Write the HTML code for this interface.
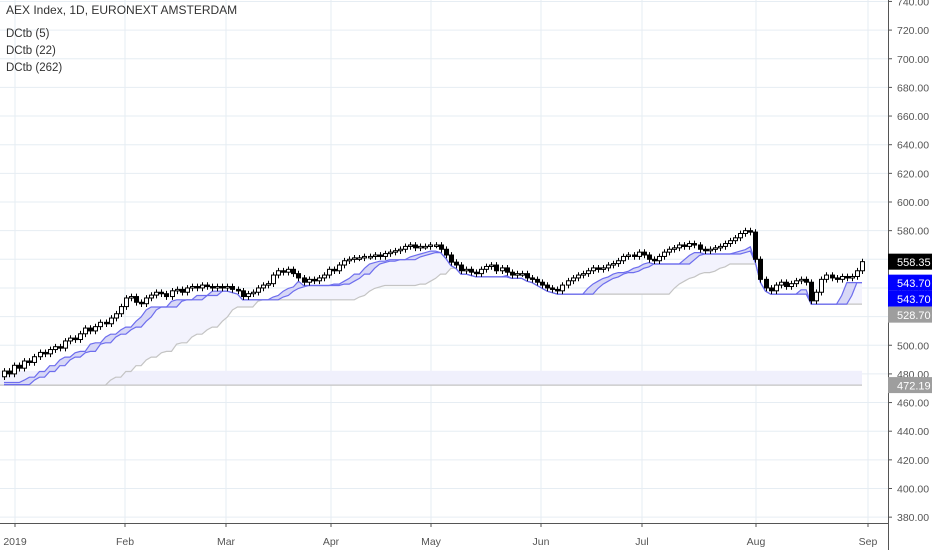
<!DOCTYPE html>
<html><head><meta charset="utf-8"><style>
body{margin:0;background:#fff;font-family:"Liberation Sans",sans-serif;}
#wrap{position:relative;width:932px;height:550px;overflow:hidden;}
svg text{font-family:"Liberation Sans",sans-serif;}
</style></head><body>
<div id="wrap">
<svg id="chart" width="932" height="550"></svg>
</div>
<script>
const closes = [
482,480,486,484,489,488,492,495,494,497,499,498,503,505,504,508,512,510,513,516,515,519,
522,527,533,534,530,529,533,535,537,536,534,538,539,537,540,541,540,542,541,540,
541,540,541,539,538,534,536,537,540,542,543,549,552,551,553,550,547,544,546,545,547,
549,553,552,556,559,560,561,561,562,562,563,562,564,565,566,567,569,570,568,569,
569,570,570,567,563,558,556,552,553,551,550,553,555,556,552,554,551,549,550,550,547,546,
544,542,540,539,538,542,545,547,549,550,552,554,553,554,556,557,559,562,563,562,
565,563,560,559,562,565,567,568,570,569,571,570,567,566,567,568,569,571,573,575,578,580,579,
560,546,540,538,542,544,541,543,545,546,544,531,537,546,549,547,546,548,547,548,552,558.35];
const firstOpen = 478;
const priorLow262 = 472.19;
const monthLabels = ["2019","Feb","Mar","Apr","May","Jun","Jul","Aug","Sep"];
const monthPx = [15,125,226,331,431,541,642,756,868];
const yTicks = [380,400,420,440,460,480,500,520,540,560,580,600,620,640,660,680,700,720,740];

const NS="http://www.w3.org/2000/svg";
const svg=document.getElementById('chart');
function yS(v){return 202+(600-v)*1.4325;}
const n=closes.length, x0=4, dx=(862-x0)/(n-1);
function xS(i){return x0+i*dx;}
function mk(tag,attrs,parent){const e=document.createElementNS(NS,tag);for(const k in attrs)e.setAttribute(k,attrs[k]);(parent||svg).appendChild(e);return e;}

yTicks.forEach(v=>{const l=mk('line',{x1:0,x2:888,y1:yS(v),y2:yS(v),stroke:'#e6edf3','stroke-width':1});

});
monthPx.forEach(x=>{const l=mk('line',{x1:x,x2:x,y1:0,y2:523,stroke:'#e6edf3','stroke-width':1});

});

const opens=closes.map((c,i)=>i===0?firstOpen:closes[i-1]);
const highs=closes.map((c,i)=>Math.max(c,opens[i])+2);
const lows=closes.map((c,i)=>Math.min(c,opens[i])-2.3);
function minLow(i,p,prior){let m=prior===undefined?Infinity:prior;for(let k=Math.max(0,i-p+1);k<=i;k++)m=Math.min(m,lows[k]);return m;}
const dc5=closes.map((c,i)=>minLow(i,5,i<4?474:undefined));
const dc7=closes.map((c,i)=>minLow(i,7,i<6?472.5:undefined));
const dc22=closes.map((c,i)=>minLow(i,22,i<21?priorLow262:undefined));
function pathOf(arr){return arr.map((v,i)=>(i?'L':'M')+xS(i).toFixed(1)+' '+yS(v).toFixed(1)).join(' ');}
function area(a,b,fill,name){let d=pathOf(a);for(let i=n-1;i>=0;i--)d+=' L'+xS(i).toFixed(1)+' '+yS(b[i]).toFixed(1);d+=' Z';
const p=mk('path',{d:d,fill:fill,stroke:'none'});

}
const b262=mk('rect',{x:0,y:yS(priorLow262+10),width:862,height:yS(priorLow262)-yS(priorLow262+10),fill:'#f0f0fc'});


const l262=mk('line',{x1:0,x2:862,y1:yS(priorLow262),y2:yS(priorLow262),stroke:'#c4c4c4','stroke-width':1.2});


area(dc7,dc22,'#f3f3fd','dc22-fill');
area(dc5,dc7,'#d8d8f6','dc5-fill');
const lg=mk('path',{d:pathOf(dc22),fill:'none',stroke:'#c4c4c4','stroke-width':1.2});


const lb2=mk('path',{d:pathOf(dc7),fill:'none',stroke:'#6d6dee','stroke-width':1.2});


const lb1=mk('path',{d:pathOf(dc5),fill:'none',stroke:'#6d6dee','stroke-width':1.2});



closes.forEach((c,i)=>{const o=opens[i],x=Math.round(xS(i))+0.5,up=c>=o;
const w=mk('line',{x1:x,x2:x,y1:yS(highs[i]),y2:yS(lows[i]),stroke:'#000','stroke-width':1});


const top=yS(Math.max(o,c)),h=Math.max(1.5,yS(Math.min(o,c))-top);
const r=mk('rect',{x:x-2,y:top,width:4,height:h,fill:up?'#fff':'#000',stroke:'#000','stroke-width':1});

});

const ax=mk('line',{x1:888.5,x2:888.5,y1:0,y2:550,stroke:'#555','stroke-width':1});


const bx=mk('line',{x1:0,x2:888,y1:523.5,y2:523.5,stroke:'#555','stroke-width':1});


yTicks.forEach(v=>{const y=yS(v);
const t=mk('line',{x1:888,x2:892,y1:y,y2:y,stroke:'#555'});


const tx=mk('text',{x:897,y:y+4,'font-size':10.5,fill:'#555'});tx.textContent=v.toFixed(2);

});
monthLabels.forEach((m,i)=>{const x=monthPx[i];
const t=mk('line',{x1:x,x2:x,y1:523,y2:527,stroke:'#555'});


const tx=mk('text',{x:x,y:545,'font-size':10.5,fill:'#555','text-anchor':'middle'});tx.textContent=m;

});

let lastTagY=-100;
function tag(v,bg,name){let y=yS(v);
if(y-lastTagY<16 && y>lastTagY-16) y=lastTagY+16; lastTagY=y;
const r=mk('rect',{x:888,y:y-8,width:44,height:16,fill:bg});


const t=mk('text',{x:897,y:y+4.5,'font-size':11,fill:'#fff'});t.textContent=v.toFixed(2);

}
tag(closes[n-1],'#000','last-price-tag');
tag(dc5[n-1],'#0000ff','dc5-price-tag');
tag(dc7[n-1],'#0000ff','dc-lower-price-tag');
tag(dc22[n-1],'#9e9e9e','dc22-price-tag');
lastTagY=-100;
tag(priorLow262,'#9e9e9e','dc262-price-tag');

[["AEX Index, 1D, EURONEXT AMSTERDAM",14,12,'chart-title'],["DCtb (5)",37,11.5,'legend-dc5'],["DCtb (22)",54,11.5,'legend-dc22'],["DCtb (262)",71,11.5,'legend-dc262']].forEach(a=>{
const t=mk('text',{x:6,y:a[1],'font-size':a[2],fill:'#333'});t.textContent=a[0];

});
</script>
</body></html>
